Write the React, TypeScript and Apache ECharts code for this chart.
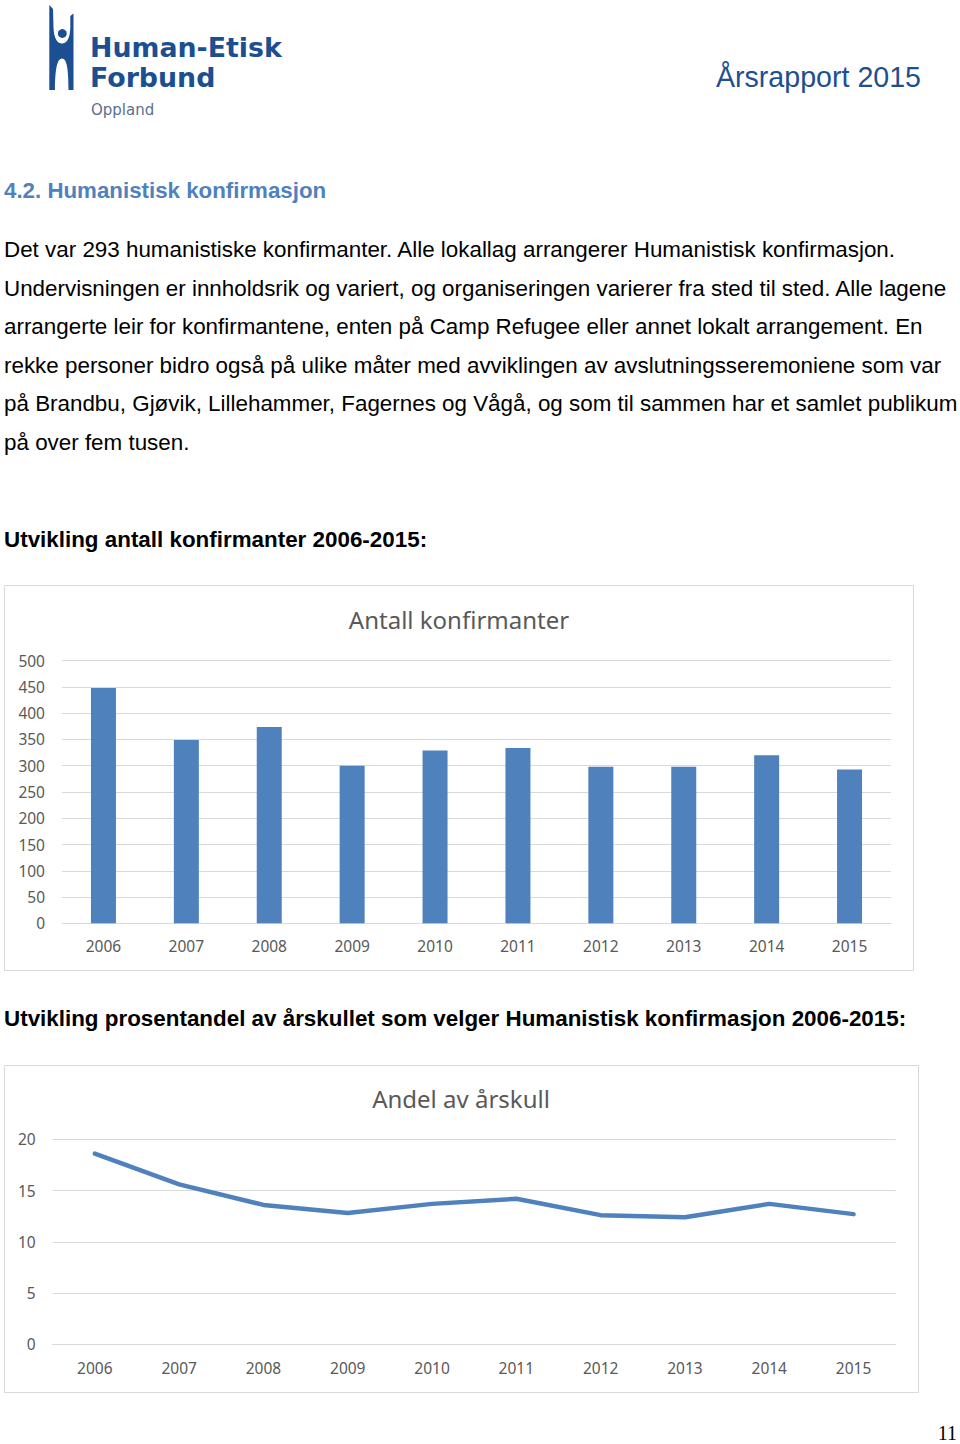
import React, { useEffect, useRef } from "react";
import * as echarts from "echarts";

const years = ["2006", "2007", "2008", "2009", "2010", "2011", "2012", "2013", "2014", "2015"];
const konfirmanter = [448, 349, 374, 300, 329, 334, 298, 298, 320, 293];
const andelAvArskull = [18.6, 15.6, 13.6, 12.8, 13.7, 14.2, 12.6, 12.4, 13.7, 12.7];

const barAxisMax = 500;
const barAxisInterval = 50;
const lineAxisMax = 20;
const lineAxisInterval = 5;

const headerRight = "Årsrapport 2015";
const logoLines = ["Human-Etisk", "Forbund", "Oppland"];
const sectionHeading = "4.2. Humanistisk konfirmasjon";
const paragraphLines = [
  "Det var 293 humanistiske konfirmanter. Alle lokallag arrangerer Humanistisk konfirmasjon.",
  "Undervisningen er innholdsrik og variert, og organiseringen varierer fra sted til sted. Alle lagene",
  "arrangerte leir for konfirmantene, enten på Camp Refugee eller annet lokalt arrangement. En",
  "rekke personer bidro også på ulike måter med avviklingen av avslutningsseremoniene som var",
  "på Brandbu, Gjøvik, Lillehammer, Fagernes og Vågå, og som til sammen har et samlet publikum",
  "på over fem tusen.",
];
const chart1Heading = "Utvikling antall konfirmanter 2006-2015:";
const chart2Heading = "Utvikling prosentandel av årskullet som velger Humanistisk konfirmasjon 2006-2015:";
const chart1Title = "Antall konfirmanter";
const chart2Title = "Andel av årskull";
const pageNumber = "11";

const LOGO_PATH =
  "M49.3,5 L53,9 L53.5,28 C54,38 57,43.5 62,43.5 C67,43.5 70,38 70.3,28 L70.3,16 L73.5,13.5 L73.5,90 L68.5,90 C68.5,70 67,58.5 62,58.5 C57,58.5 55,70 55,90 L49.3,90 Z";

let registered = false;
function ensureShape() {
  if (registered) return;
  echarts.graphic.registerShape("hefLogo", echarts.graphic.extendPath(LOGO_PATH, {}) as any);
  registered = true;
}

const SANS = '"Liberation Sans", Arial, Helvetica, sans-serif';
const CHART_FONT = '"Noto Sans", "Open Sans", sans-serif';
const BLUE = "#4f81bd";
const GRAY = "#595959";
const GRID = "#d9d9d9";

function txt(text: string, x: number, y: number, o: any = {}) {
  return {
    type: "text",
    x,
    y,
    silent: true,
    style: {
      text,
      fontSize: o.size ?? 22.4,
      fontFamily: o.family ?? SANS,
      fontWeight: o.weight ?? "normal",
      fill: o.fill ?? "#000000",
      textAlign: o.align ?? "left",
      textVerticalAlign: "middle",
    },
  };
}

export default function App() {
  const ref = useRef<HTMLDivElement>(null);
  useEffect(() => {
    if (!ref.current) return;
    ensureShape();
    const chart = echarts.init(ref.current, undefined, { renderer: "svg" });
    const logoBlue = "#1b4f92";
    const graphics: any[] = [
      { type: "rect", shape: { x: 0, y: 0, width: 960, height: 1444 }, style: { fill: "#ffffff" }, silent: true, z: -10 },
      { type: "hefLogo", x: 0, y: 0, style: { fill: logoBlue }, silent: true },
      { type: "circle", shape: { cx: 62.3, cy: 33.5, r: 4.4 }, style: { fill: logoBlue }, silent: true },
      txt(logoLines[0], 90, 47, { size: 26.8, family: '"DejaVu Sans", sans-serif', weight: "bold", fill: logoBlue }),
      txt(logoLines[1], 90, 77, { size: 26.8, family: '"DejaVu Sans", sans-serif', weight: "bold", fill: logoBlue }),
      txt(logoLines[2], 91, 109.5, { size: 15, family: '"DejaVu Sans", sans-serif', fill: "#5a6f8e" }),
      txt(headerRight, 921, 77, { size: 28.6, fill: "#1e4f90", align: "right" }),
      txt(sectionHeading, 4, 190.5, { size: 22.3, weight: "bold", fill: BLUE }),
      ...paragraphLines.map((l, i) => txt(l, 4, 249.5 + 38.6 * i, { size: 22.4 })),
      txt(chart1Heading, 4, 539.5, { size: 22.4, weight: "bold" }),
      txt(chart2Heading, 4, 1018.5, { size: 22.4, weight: "bold" }),
      {
        type: "rect",
        shape: { x: 4.5, y: 585.5, width: 909, height: 385 },
        style: { fill: "none", stroke: GRID, lineWidth: 1 },
        silent: true,
      },
      {
        type: "rect",
        shape: { x: 4.5, y: 1065.5, width: 914, height: 327 },
        style: { fill: "none", stroke: GRID, lineWidth: 1 },
        silent: true,
      },
      txt(chart1Title, 459, 619, { size: 24, family: CHART_FONT, fill: GRAY, align: "center" }),
      txt(chart2Title, 461, 1098, { size: 24, family: CHART_FONT, fill: GRAY, align: "center" }),
      txt(pageNumber, 957, 1433, { size: 20, family: '"Liberation Serif", "DejaVu Serif", serif', align: "right" }),
    ];

    const axisLabel = { color: GRAY, fontSize: 15.5, fontFamily: CHART_FONT };
    chart.setOption({
      animation: false,
      backgroundColor: "#ffffff",
      graphic: { elements: graphics },
      grid: [
        { left: 62, right: 69, top: 660.7, bottom: 520.7, containLabel: false },
        { left: 52.7, right: 64.3, top: 1139.3, bottom: 99.7, containLabel: false },
      ],
      xAxis: [
        {
          type: "category",
          gridIndex: 0,
          data: years,
          boundaryGap: true,
          axisLine: { show: true, lineStyle: { color: GRID, width: 1 } },
          axisTick: { show: false },
          axisLabel: { ...axisLabel, margin: 15 },
        },
        {
          type: "category",
          gridIndex: 1,
          data: years,
          boundaryGap: true,
          axisLine: { show: true, lineStyle: { color: GRID, width: 1 } },
          axisTick: { show: false },
          axisLabel: { ...axisLabel, margin: 16 },
        },
      ],
      yAxis: [
        {
          type: "value",
          gridIndex: 0,
          min: 0,
          max: barAxisMax,
          interval: barAxisInterval,
          axisLine: { show: false },
          axisTick: { show: false },
          splitLine: { lineStyle: { color: GRID, width: 1 } },
          axisLabel: { ...axisLabel, margin: 17 },
        },
        {
          type: "value",
          gridIndex: 1,
          min: 0,
          max: lineAxisMax,
          interval: lineAxisInterval,
          axisLine: { show: false },
          axisTick: { show: false },
          splitLine: { lineStyle: { color: GRID, width: 1 } },
          axisLabel: { ...axisLabel, margin: 17 },
        },
      ],
      series: [
        {
          type: "bar",
          xAxisIndex: 0,
          yAxisIndex: 0,
          data: konfirmanter,
          barWidth: 25,
          itemStyle: { color: BLUE },
          silent: true,
        },
        {
          type: "line",
          xAxisIndex: 1,
          yAxisIndex: 1,
          data: andelAvArskull,
          symbol: "none",
          lineStyle: { color: BLUE, width: 4.5, cap: "round", join: "round" },
          silent: true,
        },
      ],
    });
    return () => chart.dispose();
  }, []);
  return (
    <div
      ref={ref}
      style={{ position: "absolute", left: 0, top: 0, width: 960, height: 1444, background: "#ffffff" }}
    />
  );
}
